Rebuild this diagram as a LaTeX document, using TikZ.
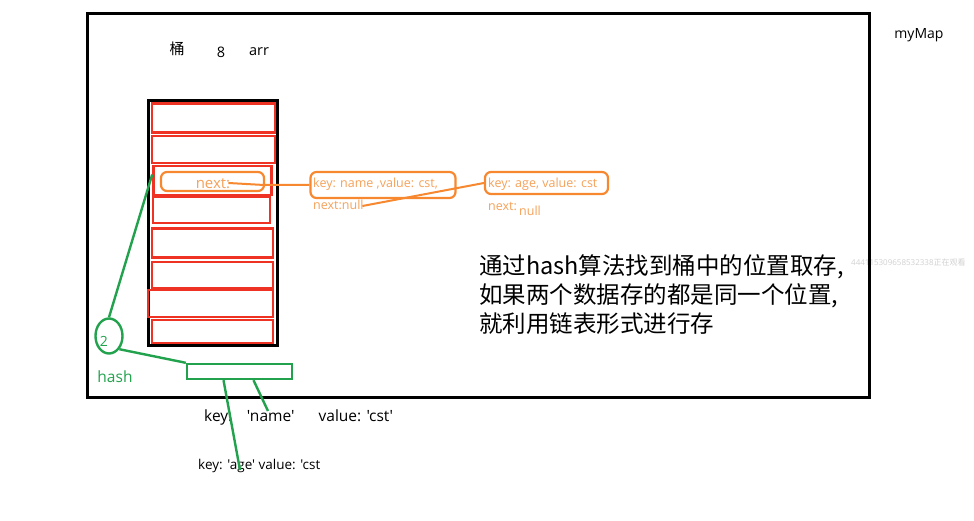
\documentclass[tikz,border=0pt]{standalone}
\usepackage{fontspec}
\setmainfont{Open Sans}[Ligatures=TeXOff]
\newfontfamily\cjk{Noto Sans CJK SC}
\usetikzlibrary{shapes.geometric}
\definecolor{myred}{HTML}{EE3324}
\definecolor{myorange}{HTML}{F7882F}
\definecolor{myorangetxt}{HTML}{F5A25A}
\definecolor{mygreen}{HTML}{23A24D}
\begin{document}
\begin{tikzpicture}[x=1pt,y=-1pt,
  rowbox/.style={draw=myred,line width=2.6pt,minimum width=122pt,minimum height=27pt,inner sep=0pt},
  obox/.style={draw=myorange,line width=2.2pt,rounded corners=6pt,inner sep=0pt},
  otxt/.style={text=myorangetxt,inner sep=0pt,anchor=west,font=\fontsize{12.5}{14}\selectfont},
  oline/.style={draw=myorange,line width=2pt},
  gline/.style={draw=mygreen,line width=2.4pt},
  btxt/.style={inner sep=0pt,font=\fontsize{14.5}{16}\selectfont}]
\useasboundingbox (0,0) rectangle (974,521);
\fill[white] (0,0) rectangle (974,521);
% watermark
\node[anchor=west,inner sep=0pt,text=black!18,font=\fontsize{8}{10}\selectfont] (wm) at (851,262) {444115309658532338{\cjk 正在观看}};
% outer map box
\draw[line width=3pt] (87,14) rectangle (869,397);
\node[btxt,font=\fontsize{14}{16}\selectfont] (mymap) at (919,35) {myMap};
% header
\node[btxt,font=\cjk\fontsize{15}{17}\selectfont] (tong) at (177,49) {桶};
\node[btxt] (eight) at (221,52) {8};
\node[btxt] (arr) at (259,52) {arr};
% bucket
\draw[line width=3pt] (148,101) rectangle (277,345);
\node[rowbox,minimum width=123pt,minimum height=29pt] (r1) at (213.5,118) {};
\node[rowbox,minimum width=123pt,minimum height=27pt] (r2) at (213.5,149.5) {};
\node[rowbox,minimum width=118pt,minimum height=29pt] (r3) at (212.5,180.5) {};
\node[rowbox,minimum width=117pt,minimum height=26pt] (r4) at (211.5,210) {};
\node[rowbox,minimum width=121pt,minimum height=29pt] (r5) at (212.5,243) {};
\node[rowbox,minimum width=121pt,minimum height=26pt] (r6) at (212.5,275) {};
\node[rowbox,minimum width=125pt,minimum height=27pt] (r7) at (210.5,303.5) {};
\node[rowbox,minimum width=121pt,minimum height=23pt] (r8) at (212.5,331.5) {};
% next box
\node[obox,minimum width=103pt,minimum height=19pt] (nx) at (212.5,181.5) {};
\node[otxt,anchor=center,font=\fontsize{15}{17}\selectfont] (nt) at (213,184) {next:};
% node 1
\node[obox,minimum width=145pt,minimum height=26pt] (n1) at (383,185) {};
\node[otxt] (n1k) at (313,184) {key: name ,value: cst,};
\node[otxt] (n1n) at (313,205) {next:null};
% node 2
\node[obox,minimum width=123pt,minimum height=22pt] (n2) at (546.5,183) {};
\node[otxt] (n2k) at (488,184) {key: age, value: cst};
\node[otxt] (n2n) at (488,206) {next:};
\node[otxt] (n2null) at (519,211) {null};
% orange links
\draw[oline] ([xshift=-2pt,yshift=1pt]nt.east) -- (264,185) -- (n1.west);
\draw[oline] ([xshift=24pt,yshift=-1pt]n1n.center) -- (n2.west);
% green hash
\node[draw=mygreen,line width=2.4pt,ellipse,minimum width=27pt,minimum height=35pt,inner sep=0pt] (h) at (109,336) {};
\node[inner sep=0pt,text=mygreen,font=\fontsize{14}{16}\selectfont] (two) at (104,341) {2};
\node[inner sep=0pt,text=mygreen,font=\fontsize{15.5}{17}\selectfont] (hash) at (115,377) {hash};
\node[draw=mygreen,line width=2.4pt,minimum width=105pt,minimum height=15pt,inner sep=0pt] (hb) at (239.5,371.5) {};
\draw[gline] (h.north) -- ([yshift=6pt]r3.west);
\draw[gline] (h.south east) -- (hb.north west);
% bottom texts
\node[btxt,anchor=west,font=\fontsize{15.5}{17}\selectfont] (kname) at (204,417) {key:\ \ \ \,'name'\ \ \ \ \ \ value: 'cst'};
\node[btxt,anchor=west,font=\fontsize{13.5}{15}\selectfont] (kage) at (198,466) {key: 'age' value: 'cst};
\coordinate (endage) at (240,470);
\coordinate (endname) at (268,411);
\draw[gline] ([xshift=-16pt]hb.south) -- (endage);
\draw[gline] ([xshift=14pt]hb.south) -- (endname);
% description
\node[anchor=north west,align=left,inner sep=0pt,font=\cjk\fontsize{23.5}{29}\selectfont] (desc) at (479,254) {通过hash算法找到桶中的位置取存,\\如果两个数据存的都是同一个位置,\\就利用链表形式进行存};
\end{tikzpicture}
\end{document}
